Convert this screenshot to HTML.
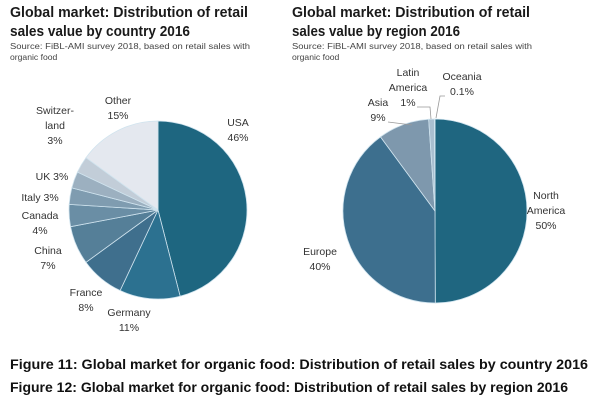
<!DOCTYPE html>
<html><head><meta charset="utf-8"><style>
html,body{margin:0;padding:0;background:#fff;}
svg{display:block;font-family:"Liberation Sans","DejaVu Sans",sans-serif;}
.t{font-weight:bold;font-size:14.5px;fill:#1a1a1a;}
.s{font-size:8.6px;fill:#444;}
.l{font-size:10.5px;fill:#333;}
.c{font-weight:bold;font-size:13.5px;fill:#111;}
</style></head><body>
<svg id="chart" width="600" height="408" viewBox="0 0 600 408">
<rect width="600" height="408" fill="#fff"/>
<text class="t" x="10" y="17" textLength="238" lengthAdjust="spacingAndGlyphs">Global market: Distribution of retail</text>
<text class="t" x="10" y="36" textLength="180" lengthAdjust="spacingAndGlyphs">sales value by country 2016</text>
<text class="s" x="10" y="49" textLength="240" lengthAdjust="spacingAndGlyphs">Source: FiBL-AMI survey 2018, based on retail sales with</text>
<text class="s" x="10" y="60">organic food</text>
<text class="t" x="292" y="17" textLength="238" lengthAdjust="spacingAndGlyphs">Global market: Distribution of retail</text>
<text class="t" x="292" y="36" textLength="168" lengthAdjust="spacingAndGlyphs">sales value by region 2016</text>
<text class="s" x="292" y="49" textLength="240" lengthAdjust="spacingAndGlyphs">Source: FiBL-AMI survey 2018, based on retail sales with</text>
<text class="s" x="292" y="60">organic food</text>
<g id="left"></g><g id="right"></g>
<g id="labels"></g>
<text class="c" x="10" y="369" textLength="578" lengthAdjust="spacingAndGlyphs">Figure 11: Global market for organic food: Distribution of retail sales by country 2016</text>
<text class="c" x="10" y="392" textLength="558" lengthAdjust="spacingAndGlyphs">Figure 12: Global market for organic food: Distribution of retail sales by region 2016</text>
</svg>
<script>
const countryCats=["USA","Germany","France","China","Canada","Italy","UK","Switzerland","Other"];
const countryVals=[46,11,8,7,4,3,3,3,15];
const countryColors=["#1e6680","#2c7190","#3f6f8d","#557f98","#6a8ea5","#7f9cb0","#9cb0c0","#c2cdd8","#e4e8ef"];
const regionCats=["North America","Europe","Asia","Latin America","Oceania"];
const regionVals=[50,40,9,1,0.1];
const regionColors=["#1f6680","#3d6f8e","#7e98ad","#a9bfd0","#c8d8e4"];
const NS="http://www.w3.org/2000/svg";
function pie(g,cx,cy,r,vals,cols,cats,prefix){
  const tot=vals.reduce((a,b)=>a+b,0);let a0=0;
  vals.forEach((v,i)=>{
    const a1=a0+v/tot*2*Math.PI;
    const x0=cx+r*Math.sin(a0),y0=cy-r*Math.cos(a0),x1=cx+r*Math.sin(a1),y1=cy-r*Math.cos(a1);
    const p=document.createElementNS(NS,"path");
    p.setAttribute("d",`M${cx},${cy}L${x0},${y0}A${r},${r} 0 ${a1-a0>Math.PI?1:0} 1 ${x1},${y1}Z`);
    p.setAttribute("fill",cols[i]);p.setAttribute("stroke","#cfe3ee");p.setAttribute("stroke-width","0.8");
    
    
    g.appendChild(p);a0=a1;
  });
}
pie(document.getElementById("left"),158,210,89,countryVals,countryColors,countryCats,"country");
pie(document.getElementById("right"),435,211,92,regionVals,regionColors,regionCats,"region");
const labs=[
 [["USA",countryVals[0]+"%"],238,126,"label-usa"],
 [["Other",countryVals[8]+"%"],118,104,"label-other"],
 [["Switzer-","land",countryVals[7]+"%"],55,114,"label-switzerland"],
 [["UK "+countryVals[6]+"%"],52,180,"label-uk"],
 [["Italy "+countryVals[5]+"%"],40,201,"label-italy"],
 [["Canada",countryVals[4]+"%"],40,219,"label-canada"],
 [["China",countryVals[3]+"%"],48,254,"label-china"],
 [["France",countryVals[2]+"%"],86,296,"label-france"],
 [["Germany",countryVals[1]+"%"],129,316,"label-germany"],
 [["Latin","America",regionVals[3]+"%"],408,76,"label-latin-america"],
 [["Oceania",regionVals[4]+"%"],462,80,"label-oceania"],
 [["Asia",regionVals[2]+"%"],378,106,"label-asia"],
 [["North","America",regionVals[0]+"%"],546,199,"label-north-america"],
 [["Europe",regionVals[1]+"%"],320,255,"label-europe"]
];
const lg=document.getElementById("labels");
labs.forEach(([lines,x,y,name])=>{
  const t=document.createElementNS(NS,"text");
  t.setAttribute("class","l");t.setAttribute("text-anchor","middle");
  
  
  lines.forEach((s,i)=>{const ts=document.createElementNS(NS,"tspan");ts.setAttribute("x",x);ts.setAttribute("y",y+i*15);ts.textContent=s;t.appendChild(ts);});
  lg.appendChild(t);
});
[["M417,107 L430,107 L431,119","leader-latin"],["M445,96 L440,96 L436,118","leader-oceania"],["M388,122 L412,125","leader-asia"]].forEach(([d,n])=>{
  const p=document.createElementNS(NS,"path");p.setAttribute("d",d);p.setAttribute("fill","none");p.setAttribute("stroke","#999");p.setAttribute("stroke-width","0.8");
  
  
  lg.appendChild(p);
});
</script>
</body></html>
